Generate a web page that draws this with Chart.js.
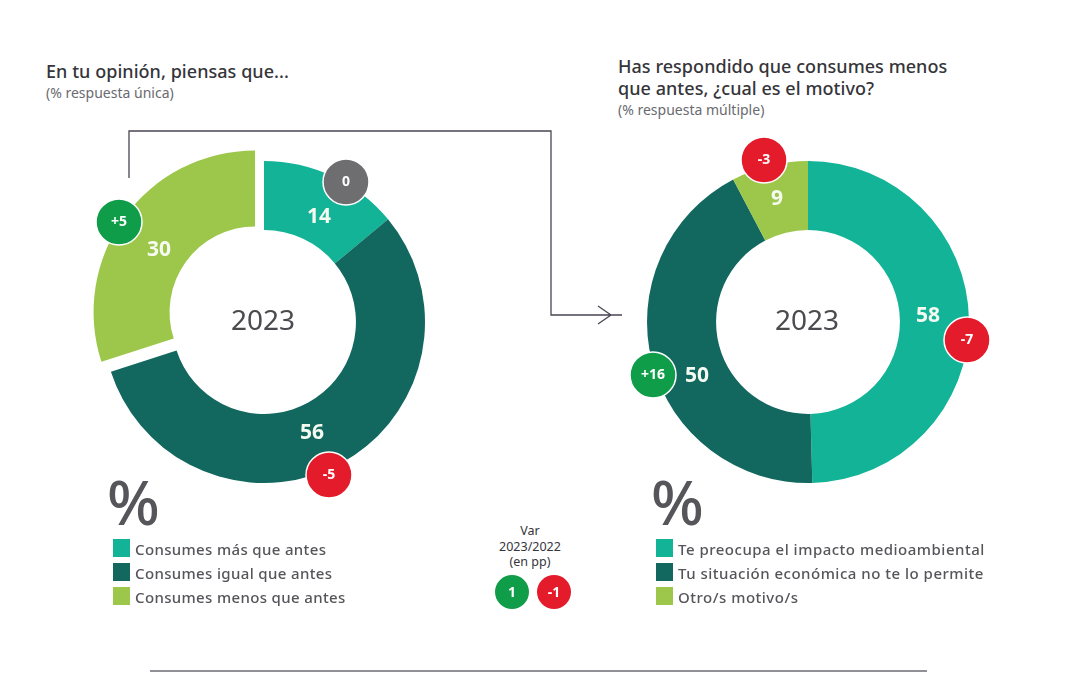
<!DOCTYPE html>
<html lang="es">
<head>
<meta charset="utf-8">
<title>Consumo 2023</title>
<script src="https://cdn.jsdelivr.net/npm/chart.js@4"></script>
<style>
  html, body { margin: 0; padding: 0; background: #fff; }
  body { position: relative; width: 1080px; height: 675px; overflow: hidden; font-family: "Noto Sans", sans-serif; color: #3d3d42; }
  .abs { position: absolute; }
  canvas { position: absolute; }
  .title { font-size: 18px; line-height: 22px; font-weight: 500; color: #35353a; white-space: nowrap; letter-spacing: 0.05px; }
  .sub { font-size: 14px; line-height: 18px; color: #6a6a70; white-space: nowrap; }
  .pct { font-size: 62px; line-height: 68px; font-weight: 500; color: #55555a; }
  .legend-row { position: absolute; height: 24px; white-space: nowrap; font-size: 15px; line-height: 20px; font-weight: 500; color: #55555a; letter-spacing: 0.35px; }
  .legend-row i { position: absolute; left: 0; top: 0; width: 17px; height: 18px; }
  .legend-row span { position: absolute; left: 22px; top: 0; }
  .var { left: 470px; width: 120px; top: 523px; text-align: center; font-size: 12.5px; line-height: 15.5px; color: #35353a; }
  .dot { width: 34px; height: 34px; border-radius: 50%; color: #fff; font-size: 14px; font-weight: 700; line-height: 34px; text-align: center; }
</style>
</head>
<body>
<div class="abs title" style="left:46px;top:60px">En tu opinión, piensas que...</div>
<div class="abs sub" style="left:46px;top:84px">(% respuesta única)</div>
<div class="abs title" style="left:618px;top:55px">Has respondido que consumes menos<br>que antes, ¿cual es el motivo?</div>
<div class="abs sub" style="left:618px;top:101px">(% respuesta múltiple)</div>

<svg class="abs" style="left:0;top:0" width="1080" height="675">
  <path d="M129 178V131H551V315H622M598 306L611 315L598 324" fill="none" stroke="#4b4552" stroke-width="1.3"/>
  <line x1="150" y1="671" x2="927" y2="671" stroke="#6f6a75" stroke-width="1.5"/>
</svg>

<canvas id="chartLeft" style="left:64px;top:122px"></canvas>
<canvas id="chartRight" style="left:608px;top:122px"></canvas>

<div class="abs pct" style="left:107px;top:467px">%</div>
<div class="abs pct" style="left:651px;top:467px">%</div>
<div id="legendLeft"></div>
<div id="legendRight"></div>

<div class="abs var">Var<br>2023/2022<br>(en pp)</div>
<div class="abs dot" style="left:495px;top:575px;background:#0f9d4a">1</div>
<div class="abs dot" style="left:537px;top:575px;background:#e31b2b">-1</div>

<script>
// data
const leftCategories = ["Consumes más que antes", "Consumes igual que antes", "Consumes menos que antes"];
const leftValues = [14, 56, 30];
const leftVariation = [0, -5, 5];

const rightCategories = ["Te preocupa el impacto medioambiental", "Tu situación económica no te lo permite", "Otro/s motivo/s"];
const rightValues = [58, 50, 9];
const rightVariation = [-7, 16, -3];

const yearLabel = "2023";
const sliceColors = ["#12b396", "#12685f", "#9dc74a"];

// where the labels sit, relative to the centre of each ring
const leftLabelOffsets = [[55, -105], [48, 111], [-105, -72]];
const leftBadgeOffsets = [[82, -140], [65, 153], [-145, -100]];
const rightLabelOffsets = [[120, -6], [-111, 54], [-31, -123]];
const rightBadgeOffsets = [[159, 18], [-155, 53], [-44, -162]];

function badgeColor(v) {
  if (v > 0) return "#0f9d4a";
  if (v < 0) return "#e31b2b";
  return "#6e6e70";
}

// the pulled out slice on the left is a bit thicker than the rest of the ring
const pulledSlice = {
  id: "pulledSlice",
  afterDatasetsUpdate(chart, args, opts) {
    if (opts.index === undefined) return;
    const arc = chart.getDatasetMeta(0).data[opts.index];
    arc.innerRadius = opts.innerRadius;
    arc.y += opts.shiftY;
  }
};

// draws the year, the values and the variation badges on top of the arcs
const ringText = {
  id: "ringText",
  afterDatasetsDraw(chart, args, opts) {
    const { ctx } = chart;
    const arcs = chart.getDatasetMeta(0).data;
    const cx = arcs[0].x;
    const cy = arcs[0].y;
    ctx.save();
    ctx.textAlign = "center";
    ctx.textBaseline = "middle";

    ctx.fillStyle = "#4a4a4f";
    ctx.font = '28px "Noto Sans"';
    ctx.fillText(yearLabel, cx - 1, cy);

    chart.data.datasets[0].data.forEach((value, i) => {
      ctx.fillStyle = "#f6fbf2";
      ctx.font = 'bold 21px "Noto Sans"';
      ctx.fillText(value, cx + opts.labels[i][0], cy + opts.labels[i][1]);

      const bx = cx + opts.badges[i][0];
      const by = cy + opts.badges[i][1];
      const v = opts.variation[i];
      ctx.beginPath();
      ctx.arc(bx, by, 23, 0, Math.PI * 2);
      ctx.fillStyle = badgeColor(v);
      ctx.fill();
      ctx.lineWidth = 1.5;
      ctx.strokeStyle = "#ffffff";
      ctx.stroke();
      ctx.fillStyle = "#ffffff";
      ctx.font = 'bold 14px "Noto Sans"';
      ctx.fillText(v > 0 ? "+" + v : String(v), bx, by);
    });
    ctx.restore();
  }
};

function makeRing(id, categories, values, offsets, labels, badges, variation, pulled) {
  const canvas = document.getElementById(id);
  canvas.width = 400;
  canvas.height = 400;
  return new Chart(canvas, {
    type: "doughnut",
    data: {
      labels: categories,
      datasets: [{
        data: values,
        backgroundColor: sliceColors,
        borderWidth: 0,
        offset: offsets
      }]
    },
    options: {
      responsive: false,
      animation: false,
      radius: 161,
      cutout: "57.1%",
      plugins: {
        legend: { display: false },
        tooltip: { enabled: false },
        ringText: { labels, badges, variation },
        pulledSlice: pulled
      }
    },
    plugins: [pulledSlice, ringText]
  });
}

function makeLegend(id, categories, left, spacing) {
  const box = document.getElementById(id);
  categories.forEach((name, i) => {
    const row = document.createElement("div");
    row.className = "legend-row";
    row.style.left = left + "px";
    row.style.top = (539 + i * 24) + "px";
    row.style.letterSpacing = spacing;
    row.innerHTML = `<i style="background:${sliceColors[i]}"></i><span>${name}</span>`;
    box.appendChild(row);
  });
}

// chart.js moves an arc by a quarter of its offset, so 44 is 11px on screen
makeRing("chartLeft", leftCategories, leftValues, [0, 0, 44], leftLabelOffsets, leftBadgeOffsets, leftVariation, { index: 2, innerRadius: 85, shiftY: -3.5 });
makeRing("chartRight", rightCategories, rightValues, [0, 0, 0], rightLabelOffsets, rightBadgeOffsets, rightVariation, {});
makeLegend("legendLeft", leftCategories, 113, "0.35px");
makeLegend("legendRight", rightCategories, 656, "0.5px");
</script>
</body>
</html>
